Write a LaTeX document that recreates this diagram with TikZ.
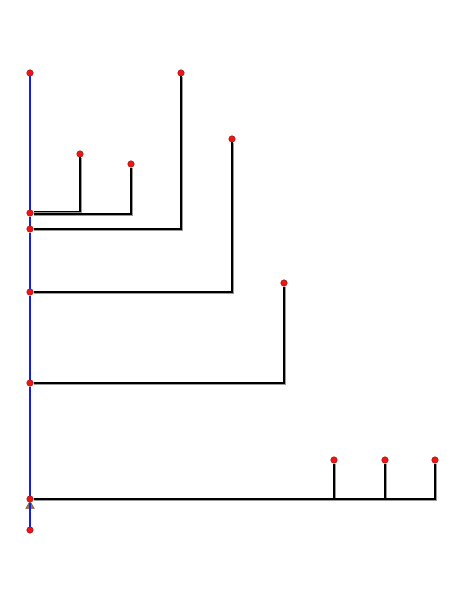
\documentclass[tikz,border=0pt]{standalone}
\usepackage{tikz}
\usetikzlibrary{shapes.geometric}
\definecolor{spineblue}{RGB}{20,30,235}
\definecolor{dotred}{RGB}{240,20,20}
\definecolor{dotrim}{RGB}{150,20,20}
\definecolor{tan2}{RGB}{150,115,70}
\tikzset{
  dot/.style={circle, inner sep=0pt, minimum size=6.5pt, fill=dotred, draw=dotrim, line width=0.5pt},
  spine/.style={draw=spineblue, line width=1.4pt},
  branch/.style={draw=black, line width=1.3pt,
    preaction={draw=gray!80, line width=1.3pt, transform canvas={xshift=0.9pt, yshift=-0.9pt}}},
  rootmark/.style={regular polygon, regular polygon sides=3, inner sep=0pt, minimum size=10pt, fill=tan2, draw=tan2!60!black, line width=0.3pt}
}
\begin{document}
\begin{tikzpicture}[x=1pt, y=-1pt]
\useasboundingbox (0,0) rectangle (465,604);
% points on the spine
\node[dot] (s1) at (30,73) {};
\node[dot] (s2) at (30,213) {};
\node[dot] (s3) at (30,229) {};
\node[dot] (s4) at (30,292) {};
\node[dot] (s5) at (30,383) {};
\node[dot] (s6) at (30,499) {};
\node[dot] (s7) at (30,530) {};
\node[rootmark] (root) at (30,506) {};
% leaves
\node[dot] (a1) at (80,154) {};
\node[dot] (a2) at (131,164) {};
\node[dot] (a3) at (181,73) {};
\node[dot] (a4) at (232,139) {};
\node[dot] (a5) at (284,283) {};
\node[dot] (b1) at (334,460) {};
\node[dot] (b2) at (385,460) {};
\node[dot] (b3) at (435,460) {};

% spine
\draw[spine] (s1) -- (s2);
\draw[spine] (s2) -- (s3);
\draw[spine] (s3) -- (s4);
\draw[spine] (s4) -- (s5);
\draw[spine] (s5) -- (s6);
\draw[spine] (s6) -- (s7);

% branches
\draw[branch] ([yshift=1.5pt]s2.east) -| (a1);
\draw[branch] ([yshift=-1pt]s2.east) -| (a2);
\draw[branch] (s3) -| (a3);
\draw[branch] (s4) -| (a4);
\draw[branch] (s5) -| (a5);
\draw[branch] (s6) -| (b1);
\draw[branch] (s6) -| (b2);
\draw[branch] (s6) -| (b3);
\end{tikzpicture}
\end{document}
